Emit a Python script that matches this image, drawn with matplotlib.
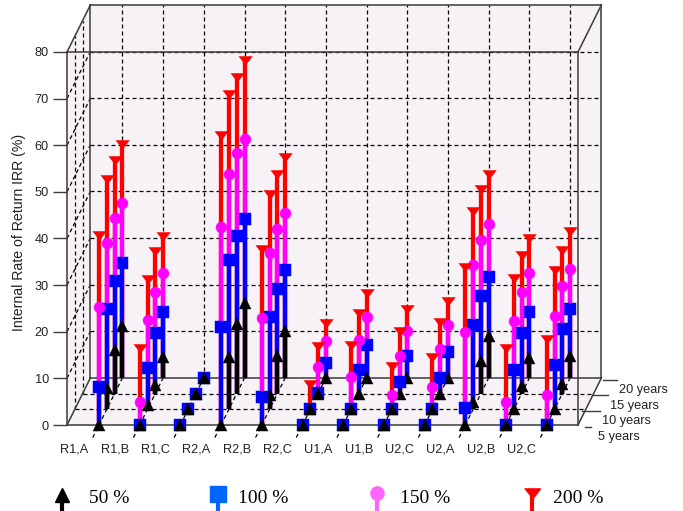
import matplotlib
matplotlib.use("Agg")
import matplotlib.pyplot as plt
from matplotlib.lines import Line2D
from matplotlib.transforms import offset_copy

groups = ["R1,A", "R1,B", "R1,C", "R2,A", "R2,B", "R2,C", "U1,A", "U1,B", "U2,C", "U2,A", "U2,B", "U2,C"]
depth_labels = ["5 years", "10 years", "15 years", "20 years"]
series_labels = ["50 %", "100 %", "150 %", "200 %"]

# values per group, one list per depth (5, 10, 15, 20 years)
black_5 = [0, 0, 0, 0, 0, 0, 0, 0, 0, 0, 0, 0]
black_10 = [4.5, 1, 0, 11.2, 3, 0, 0, 0, 0, 1.5, 0, 0]
black_15 = [9.4, 1.9, 0, 15, 8, 0, 0, 0, 0, 7, 1.7, 2]
black_20 = [11.2, 4.5, 0, 16, 10, 0, 0, 0, 0, 9, 4.3, 4.7]
blue_5 = [8.1, 0, 0, 21, 6, 0, 0, 0, 0, 3.6, 0, 0]
blue_10 = [21.5, 8.8, 0, 32, 19.7, 0, 0, 0, 0, 18, 8.4, 9.4]
blue_15 = [24.2, 12.9, 0, 33.7, 22.5, 0.2, 5, 2.4, 3.4, 21, 13, 13.9]
blue_20 = [24.7, 14.2, 0, 34, 23.2, 3.2, 7, 4.7, 5.6, 21.7, 14.2, 14.8]
pink_5 = [25.3, 4.9, 0, 42.5, 23, 0, 0, 0, 0, 20, 5, 6.5]
pink_10 = [35.6, 19.1, 0, 50.4, 33.5, 0, 7, 3, 4.7, 31, 19, 20]
pink_15 = [37.6, 21.7, 0, 51.5, 35.4, 5.8, 11.6, 8, 9.6, 33, 21.7, 23]
pink_20 = [37.6, 22.5, 0, 51.3, 35.4, 8, 13, 10, 11.4, 33, 22.5, 23.4]
red_5 = [41, 16.7, 0, 62.4, 38, 0, 0, 0, 0, 34, 16.7, 18.6]
red_10 = [49.6, 28.1, 0, 67.8, 46.4, 5.6, 14, 9.4, 11.4, 42.7, 28.4, 30]
red_15 = [50.4, 30.7, 0, 68.2, 47.4, 10.5, 17.4, 13.7, 15.5, 44, 30, 31]
red_20 = [50.4, 30.7, 0, 68.5, 47.6, 12, 18.5, 15, 16.7, 44, 30.3, 31.8]

red = [red_5, red_10, red_15, red_20]
pink = [pink_5, pink_10, pink_15, pink_20]
blue = [blue_5, blue_10, blue_15, blue_20]
black = [black_5, black_10, black_15, black_20]

W, H = 683, 511
fig = plt.figure(figsize=(W / 100, H / 100), dpi=100, facecolor="white")
L, R, T, B = 67, 578, 52, 425
ax = fig.add_axes([L / W, (H - B) / H, (R - L) / W, (B - T) / H])
ax.patch.set_alpha(0)
STEP = 40.7
ax.set_xlim((L - 99) / STEP, (R - 99) / STEP)
ax.set_ylim(0, 80)

DX, DY = 7.8, 15.7  # pixels per depth step
DXU, DYU = DX / STEP, DY / ((B - T) / 80)
xl, xr = ax.get_xlim()
frame_c = "#3c3c3c"
text_c = "#222222"


def P(x, v, d):
    return x + d * DXU, v + d * DYU


def line(xs, vs, ds, **kw):
    pts = [P(x, v, d) for x, v, d in zip(xs, vs, ds)]
    ax.plot([p[0] for p in pts], [p[1] for p in pts], clip_on=False, **kw)


wall = [P(xl, 0, 0), P(xl, 80, 0), P(xl, 80, 3), P(xr, 80, 3), P(xr, 0, 3), P(xr, 0, 0)]
ax.fill([p[0] for p in wall], [p[1] for p in wall], color="#f6f2f6", clip_on=False, zorder=0)

dash = dict(color="black", lw=0.9, ls=(0, (3.2, 2.4)), zorder=1)
for v in range(10, 80, 10):
    line([xl, xr], [v, v], [3, 3], **dash)
    line([xl, xl], [v, v], [0, 3], **dash)
for i in range(len(groups)):
    line([i, i], [0, 80], [3, 3], **dash)
    line([i, i], [0, 0], [-0.8, 3], **dash)
for d in (1, 2):
    line([xl, xr], [0, 0], [d, d], **dash)
    line([xl, xl], [0, 80], [d, d], **dash)

solid = dict(color=frame_c, lw=1.1, zorder=1.5)
line([xl, xl], [80, 80], [0, 3], **solid)
line([xl, xl], [0, 0], [0, 3], **solid)
line([xl, xl], [0, 80], [3, 3], **solid)
line([xl, xr], [80, 80], [3, 3], **solid)
line([xr, xr], [0, 80], [3, 3], **solid)
line([xr, xr], [80, 80], [0, 3], **solid)
line([xr, xr], [0, 0], [0, 3], **solid)
line([xl, xr], [0, 0], [3, 3], **solid)

flat_v = [(-1, 0.45), (1, 0.45), (0, -0.85)]
styles = [
    (red, "#ff0000", flat_v, 9.8, False),
    (pink, "#ff00ff", "o", 7.9, False),
    (blue, "#0000ff", "s", 9.0, True),
    (black, "#000000", "^", 8.6, True),
]
z = 2.0
xpos = list(range(len(groups)))
for d in (3, 2, 1, 0):
    tr = offset_copy(ax.transData, fig=fig, x=DX * d, y=DY * d, units="dots")
    for vals, col, mk, ms, show_zero in styles:
        xs = [x for x, v in zip(xpos, vals[d]) if show_zero or v > 0]
        vs = [v for v in vals[d] if show_zero or v > 0]
        ax.vlines(xs, 0, vs, colors=col, lw=3.1, transform=tr, clip_on=False, zorder=z)
        ax.plot(xs, vs, ls="none", marker=mk, ms=ms, color=col, mec=col, mew=0.3, transform=tr,
                clip_on=False, zorder=z + 0.01)
        z += 0.02

for s in ax.spines.values():
    s.set_color(frame_c)
    s.set_linewidth(1.1)
    s.set_zorder(1.6)

sans = "Liberation Sans"
FS = 9.2
ax.set_yticks(range(0, 90, 10))
ax.tick_params(axis="y", length=10, width=1, color=frame_c, pad=3, labelsize=FS, labelcolor=text_c)
ax.set_xticks([i - 25 / STEP for i in xpos], groups)
ax.tick_params(axis="x", length=0, pad=13, labelsize=FS, labelcolor=text_c)
for t in ax.get_xticklabels() + ax.get_yticklabels():
    t.set_family(sans)
fig.text(19 / W, (H - 232) / H, "Internal Rate of Return IRR (%)", rotation=90, ha="center", va="center",
         family=sans, fontsize=10.2, color=text_c)

# depth ticks and labels
tick_from = [7, -4, -1, 2]
tick_to = [13, 14, 14, 16]
label_off = [20, 16, 16, 18]
for d, lab in enumerate(depth_labels):
    xe, ve = P(xr, 0, d)
    ax.plot([xe + tick_from[d] / STEP, xe + tick_to[d] / STEP], [ve - 0.4, ve - 0.4],
            color=frame_c, lw=1, clip_on=False)
    ax.text(xe + label_off[d] / STEP, ve - 2.6, lab, family=sans, fontsize=FS, color=text_c,
            ha="left", va="center", clip_on=False)

# legend row
lg_x = [62, 218, 377, 532]
txt_x = [89, 238, 400, 553]
lg_c = ["#000000", "#0066ff", "#ff66ff", "#ff0000"]
lg_m = ["^", "s", "o", flat_v]
lg_s = [10, 11, 9.5, 11.5]
lg_y = [495, 494, 493, 492]
for x0, x1, c, m, s, lab, y0 in zip(lg_x, txt_x, lg_c, lg_m, lg_s, series_labels, lg_y):
    yc = (H - y0) / H
    fig.add_artist(Line2D([x0 / W, x0 / W], [0, yc], color=c, lw=3, transform=fig.transFigure))
    fig.add_artist(Line2D([x0 / W], [yc], marker=m, ms=s, color=c, mec=c, ls="none", transform=fig.transFigure))
    fig.text(x1 / W, (H - 498) / H, lab, family="Liberation Serif", fontsize=14, color="black", ha="left", va="center")

fig.savefig("out.png", dpi=100)
